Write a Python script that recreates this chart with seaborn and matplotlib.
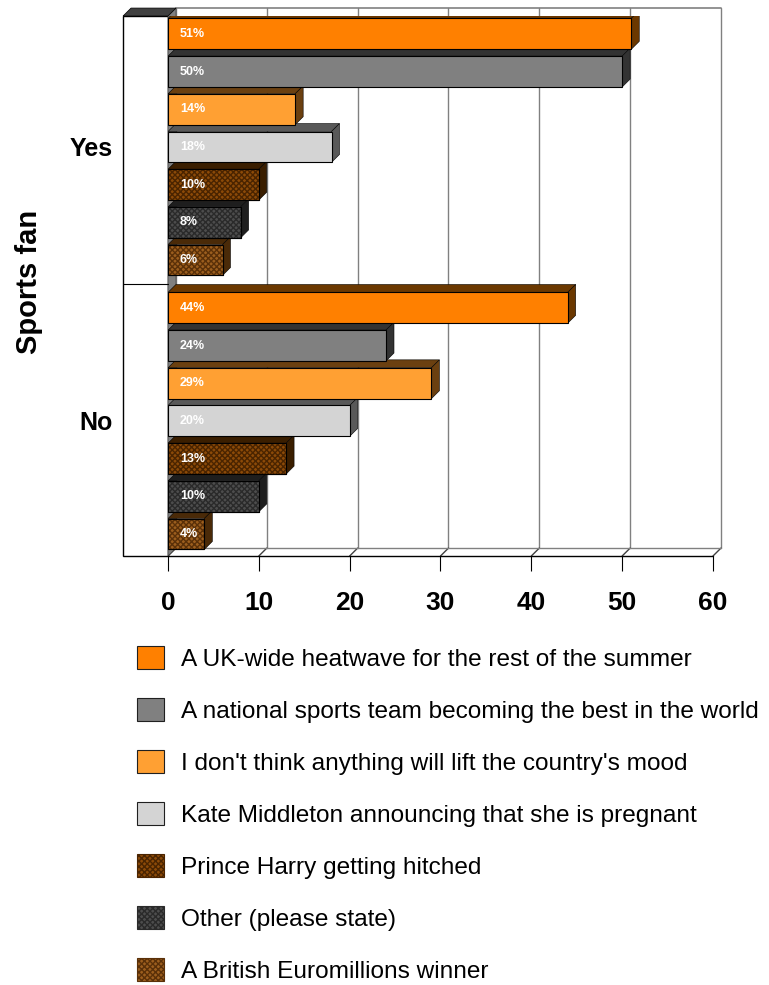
import matplotlib
matplotlib.use('Agg')
import matplotlib.pyplot as plt
from matplotlib.patches import Polygon, Rectangle, Patch
import seaborn as sns
import pandas as pd

# data
fan_groups = ['Yes', 'No']
options = [
    'A UK-wide heatwave for the rest of the summer',
    'A national sports team becoming the best in the world',
    "I don't think anything will lift the country's mood",
    'Kate Middleton announcing that she is pregnant',
    'Prince Harry getting hitched',
    'Other (please state)',
    'A British Euromillions winner',
]
yes_pct = [51, 50, 14, 18, 10, 8, 6]
no_pct = [44, 24, 29, 20, 13, 10, 4]
x_ticks = [0, 10, 20, 30, 40, 50, 60]

face_colors = ['#FF8000', '#808080', '#FFA033', '#D4D4D4', '#8C4A08', '#4D4D4D', '#9C5E1E']
side_colors = ['#6B3800', '#333333', '#6B4010', '#595959', '#3A1E00', '#1E1E1E', '#4A2A08']
hatch_colors = [None, None, None, None, '#4A2400', '#2A2A2A', '#5A3008']

sns.set_style('white')
plt.rcParams['font.family'] = ['Liberation Sans', 'DejaVu Sans']
plt.rcParams['text.color'] = 'black'
plt.rcParams['xtick.color'] = 'black'
plt.rcParams['ytick.color'] = 'black'

df = pd.DataFrame({
    'fan': fan_groups * len(options),
    'option': [o for o in options for _ in fan_groups],
    'pct': [v for pair in zip(yes_pct, no_pct) for v in pair],
})

fig = plt.figure(figsize=(7.69, 9.85), dpi=100)
ax = fig.add_axes([168 / 769, 1 - 556 / 985, 545 / 769, 540 / 985])

sns.barplot(data=df, y='fan', x='pct', hue='option', order=fan_groups, hue_order=options,
            palette=face_colors, orient='h', width=0.963, gap=0.18, saturation=1,
            edgecolor='black', linewidth=0.8, legend=False, ax=ax, zorder=3)

top, bottom = -0.478, 1.493
ax.set_xlim(0, 60)
ax.set_ylim(bottom, top)
dx, dy = 0.88, 0.029  # 3d depth in data units

for i, cont in enumerate(ax.containers):
    for bar in cont:
        x0, y0 = bar.get_x(), bar.get_y()
        w, h = bar.get_width(), bar.get_height()
        if hatch_colors[i]:
            bar.set_hatch('xxxxxx')
            bar.set_edgecolor(hatch_colors[i])
            ax.add_patch(Rectangle((x0, y0), w, h, fill=False, edgecolor='black', lw=0.8, zorder=3.5))
        # top and side faces
        ax.add_patch(Polygon([(x0, y0), (x0 + w, y0), (x0 + w + dx, y0 - dy), (x0 + dx, y0 - dy)],
                             closed=True, facecolor=side_colors[i], edgecolor='black', lw=0.4, zorder=2.9))
        ax.add_patch(Polygon([(x0 + w, y0), (x0 + w + dx, y0 - dy), (x0 + w + dx, y0 + h - dy), (x0 + w, y0 + h)],
                             closed=True, facecolor=side_colors[i], edgecolor='black', lw=0.4, zorder=2.9))
        ax.add_patch(Polygon([(x0, y0 + h), (x0, y0), (x0 + dx, y0 - dy), (x0 + dx, y0 + h - dy)],
                             closed=True, facecolor='#808080', edgecolor='none', zorder=2.8))
        ax.text(1.3, y0 + h / 2, f'{w:.0f}%', color='white', fontsize=9, fontweight='bold',
                ha='left', va='center', zorder=5)

# back wall gridlines and frame
for t in x_ticks:
    ax.plot([t + dx, t + dx], [top - dy, bottom - dy], color='#808080', lw=1, zorder=1, clip_on=False)
    ax.plot([t, t + dx], [bottom, bottom - dy], color='#404040', lw=1, zorder=1, clip_on=False)
ax.plot([dx, 60 + dx], [top - dy, top - dy], color='#808080', lw=1.2, zorder=1, clip_on=False)
ax.plot([dx, 60 + dx], [bottom - dy, bottom - dy], color='#808080', lw=1, zorder=1, clip_on=False)
ax.plot([0, 60], [bottom, bottom], color='black', lw=1, zorder=4, clip_on=False)

# floor on the left side
floor_w = 4.95
ax.add_patch(Rectangle((-floor_w, top), floor_w, bottom - top, facecolor='white', edgecolor='black',
                       lw=1, zorder=1, clip_on=False))
ax.plot([-floor_w, 0], [0.5, 0.5], color='black', lw=0.8, zorder=1.5, clip_on=False)
ax.add_patch(Polygon([(-floor_w, top), (0, top), (dx, top - dy), (-floor_w + dx, top - dy)], closed=True,
                     facecolor='#404040', edgecolor='black', lw=0.5, zorder=1.5, clip_on=False))
ax.add_patch(Polygon([(0, top), (dx, top - dy), (dx, bottom - dy), (0, bottom)], closed=True,
                     facecolor='#808080', edgecolor='#404040', lw=0.5, zorder=1.2, clip_on=False))

for s in ax.spines.values():
    s.set_visible(False)
ax.set_xticks(x_ticks)
ax.tick_params(axis='x', length=11, width=0.8, color='black', pad=14, labelsize=19, bottom=True)
ax.tick_params(axis='y', length=0, pad=40, labelsize=18)
for lbl in ax.get_xticklabels() + ax.get_yticklabels():
    lbl.set_fontweight('bold')
ax.set_xlabel('')
ax.set_ylabel('')
fig.text(29 / 769, 1 - 282 / 985, 'Sports fan', rotation=90, ha='center', va='center',
         fontsize=21, fontweight='bold')

handles = []
for i, opt in enumerate(options):
    handles.append(Patch(facecolor=face_colors[i], edgecolor=hatch_colors[i] or '#202020', lw=0.8,
                         hatch='xxxxxx' if hatch_colors[i] else None, label=opt))
fig.legend(handles=handles, loc='upper left', bbox_to_anchor=(137 / 769, 1 - 646 / 985), frameon=False,
           fontsize=17.6, handlelength=1.1, handleheight=1.1, handletextpad=0.7, labelspacing=1.1,
           borderaxespad=0, borderpad=0)

fig.savefig('out.png', dpi=100)
